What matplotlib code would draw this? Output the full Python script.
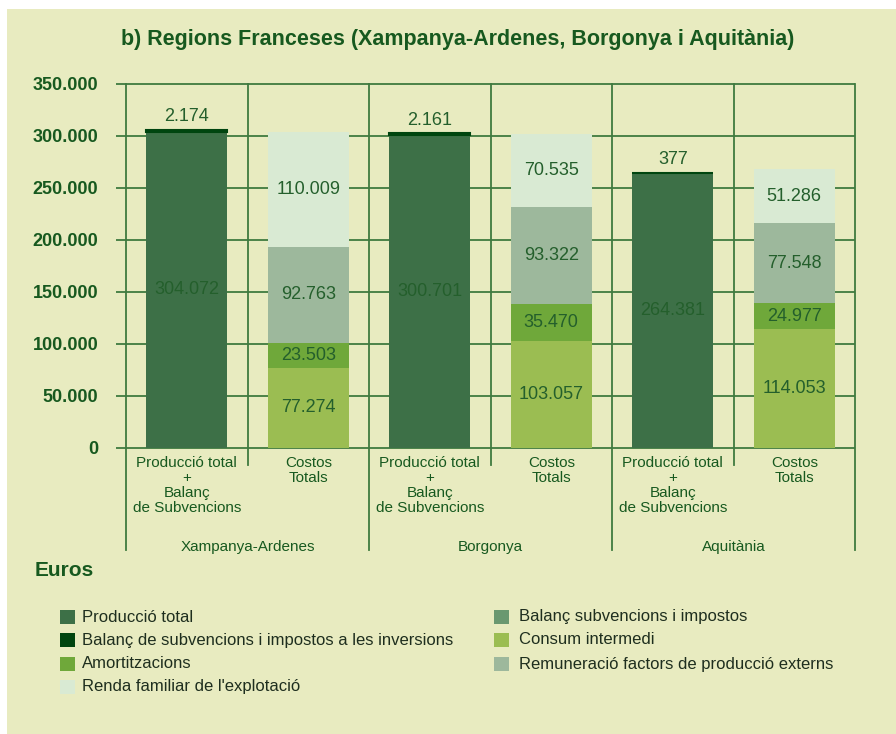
import matplotlib

matplotlib.use('Agg')
import matplotlib.pyplot as plt  # noqa: E402
from matplotlib.patches import Rectangle  # noqa: E402
from matplotlib.transforms import blended_transform_factory  # noqa: E402

# --- Data ---
regions = ['Xampanya-Ardenes', 'Borgonya', 'Aquitània']
bar_labels = ['Producció total\n+\nBalanç\nde Subvencions', 'Costos\nTotals']

produccio = [304072, 300701, 264381]
balanc_inversions = [2174, 2161, 377]

consum_intermedi = [77274, 103057, 114053]
amortitzacions = [23503, 35470, 24977]
remuneracio = [92763, 93322, 77548]
renda_familiar = [110009, 70535, 51286]

legend_labels = [
    'Producció total',
    'Balanç de subvencions i impostos a les inversions',
    'Amortitzacions',
    "Renda familiar de l'explotació",
    'Balanç subvencions i impostos',
    'Consum intermedi',
    'Remuneració factors de producció externs',
]

# --- Style ---
C_PROD = '#3D7047'
C_INV = '#00450F'
C_SUBV = '#6A9870'
C_CONSUM = '#9BBD52'
C_AMORT = '#6FA83A'
C_REMUN = '#9DB89C'
C_RENDA = '#D9EAD3'
legend_colors = [C_PROD, C_INV, C_AMORT, C_RENDA, C_SUBV, C_CONSUM, C_REMUN]

BG = '#E8EBC0'
LINE = '#3F7B3F'
DARK = '#17591F'
VAL = '#245F2C'
NARROW = ['Liberation Sans Narrow', 'Liberation Sans', 'DejaVu Sans']
SANS = ['Liberation Sans', 'DejaVu Sans']

W, H = 896, 734
fig = plt.figure(figsize=(W / 100, H / 100), dpi=100, facecolor='white')
fig.patches.append(Rectangle((7 / W, 0), 1, 1 - 9 / H, transform=fig.transFigure,
                             facecolor=BG, edgecolor='none', zorder=-10))

ax_l, ax_r, ax_b, ax_t = 126, 855, 448, 84
ax = fig.add_axes([ax_l / W, 1 - ax_b / H, (ax_r - ax_l) / W, (ax_b - ax_t) / H])
ax.set_facecolor('none')
ymax = 350000
ax.set_xlim(0, 6)
ax.set_ylim(0, ymax)
for s in ax.spines.values():
    s.set_visible(False)

# grid lines
ext_left = -10 / ((ax_r - ax_l) / 6)
yticks = list(range(0, ymax + 1, 50000))
ax.hlines(yticks, ext_left, 6, color=LINE, lw=1.3, clip_on=False, zorder=0)
trans = blended_transform_factory(ax.transData, ax.transAxes)
for i in range(7):
    bottom = -(550 - ax_b) / (ax_b - ax_t) if i % 2 == 0 else -(465 - ax_b) / (ax_b - ax_t)
    ax.plot([i, i], [bottom, 1], color=LINE, lw=1.3, transform=trans, clip_on=False, zorder=0)

ax.set_xticks([])
ax.set_yticks(yticks)
ax.set_yticklabels(['0' if v == 0 else f'{v:,}'.replace(',', '.') for v in yticks],
                   fontsize=13, fontweight='bold', color=DARK, family=SANS)
ax.tick_params(axis='y', length=0, pad=20)

bw = 0.67
txt = dict(ha='center', va='center', fontsize=13, color=VAL, family=SANS)
for r in range(len(regions)):
    xp = 2 * r + 0.5
    xc = 2 * r + 1.5
    # production bar
    ax.bar(xp, produccio[r], bw, color=C_PROD, zorder=2)
    ax.bar(xp, balanc_inversions[r], bw, bottom=produccio[r], color=C_INV,
           edgecolor=C_INV, lw=1.5, zorder=2)
    ax.text(xp, produccio[r] / 2, f'{produccio[r]:,}'.replace(',', '.'), **txt)
    ax.annotate(f'{balanc_inversions[r]:,}'.replace(',', '.'),
                (xp, produccio[r] + balanc_inversions[r]), xytext=(0, 3),
                textcoords='offset points', ha='center', va='bottom',
                fontsize=13, color=VAL, family=SANS)
    # cost bar
    bottom = 0
    for vals, col in [(consum_intermedi, C_CONSUM), (amortitzacions, C_AMORT),
                      (remuneracio, C_REMUN), (renda_familiar, C_RENDA)]:
        ax.bar(xc, vals[r], bw, bottom=bottom, color=col, zorder=2)
        ax.text(xc, bottom + vals[r] / 2, f'{vals[r]:,}'.replace(',', '.'), **txt)
        bottom += vals[r]
    # category labels
    for j, lab in enumerate(bar_labels):
        ax.text(2 * r + 0.5 + j, -(456 - ax_b) / (ax_b - ax_t), lab, transform=trans,
                ha='center', va='top', fontsize=11, color=DARK, family=NARROW,
                linespacing=1.1)
    ax.text(2 * r + 1, -(547 - ax_b) / (ax_b - ax_t), regions[r], transform=trans,
            ha='center', va='center', fontsize=11, color=DARK, family=NARROW)

fig.text(458 / W, 1 - 40 / H, 'b) Regions Franceses (Xampanya-Ardenes, Borgonya i Aquitània)',
         ha='center', va='center', fontsize=15.5, fontweight='bold', color=DARK, family=SANS)
fig.text(35 / W, 1 - 570 / H, 'Euros', ha='left', va='center', fontsize=15,
         fontweight='bold', color=DARK, family=SANS)

# legend (two columns, four rows)
row_y = [617, 640, 664, 687]
col_x = [(60, 82), (494, 519)]
for k, (lab, col) in enumerate(zip(legend_labels, legend_colors)):
    cx, tx = col_x[k // 4]
    y = row_y[k % 4]
    fig.patches.append(Rectangle((cx / W, 1 - (y + 7) / H), 15 / W, 14 / H,
                                 transform=fig.transFigure, facecolor=col, edgecolor='none'))
    fig.text(tx / W, 1 - y / H, lab, ha='left', va='center', fontsize=12,
             color='#1E2E1E', family=NARROW)

fig.savefig('out.png', dpi=100, facecolor=fig.get_facecolor())
